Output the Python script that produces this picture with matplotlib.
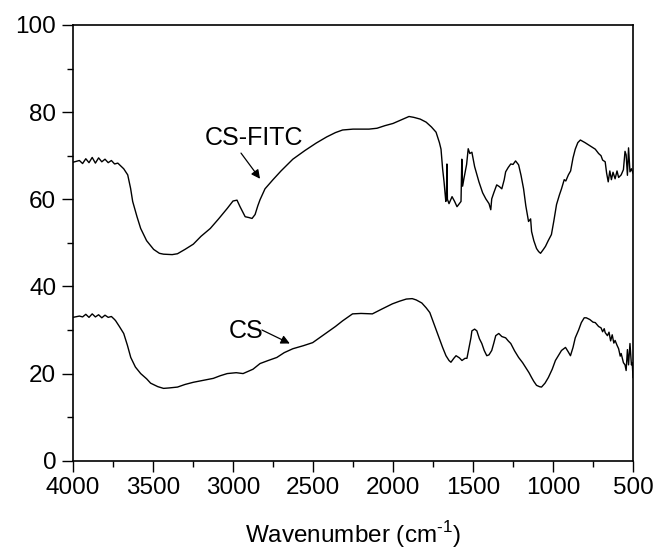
import matplotlib
matplotlib.use("Agg")
import matplotlib.pyplot as plt
from matplotlib.ticker import MultipleLocator

plt.rcParams['font.family'] = ['Liberation Sans', 'DejaVu Sans']
plt.rcParams['mathtext.fontset'] = 'custom'
plt.rcParams['mathtext.rm'] = 'Liberation Sans'

fitc_wn = [4000, 3960, 3940, 3920, 3900, 3880, 3860, 3840, 3820, 3800, 3780, 3760, 3740, 3720, 3700,
           3683, 3658, 3640, 3627, 3600, 3577, 3540, 3496, 3460, 3434, 3380, 3347, 3300, 3248, 3200,
           3142, 3090, 3036, 3000, 2975, 2956, 2935, 2924, 2900, 2881, 2862, 2845, 2831, 2800, 2750,
           2700, 2626, 2550, 2480, 2415, 2360, 2315, 2250, 2150, 2100, 2050, 2000, 1950, 1900, 1870,
           1830, 1793, 1760, 1731, 1710, 1700, 1690, 1681, 1670, 1666, 1663, 1660, 1650, 1631, 1615,
           1600, 1585, 1575, 1570, 1565, 1557, 1540, 1530, 1520, 1507, 1490, 1463, 1440, 1420, 1400,
           1389, 1383, 1370, 1352, 1335, 1320, 1305, 1296, 1280, 1264, 1250, 1234, 1215, 1200, 1184,
           1170, 1153, 1140, 1134, 1120, 1103, 1090, 1078, 1060, 1047, 1030, 1010, 995, 978, 960,
           947, 930, 920, 904, 890, 875, 861, 845, 829, 800, 770, 736, 715, 700, 690,
           674, 665, 655, 645, 635, 625, 612, 600, 590, 574, 560, 550, 543, 535, 528,
           519, 510, 500]
fitc_val = [68.5, 68.9, 68.2, 69.3, 68.4, 69.6, 68.3, 69.5, 68.6, 69.2, 68.4, 68.9, 68.1, 68.3, 67.6,
            67.0, 65.6, 62.5, 59.5, 56.0, 53.3, 50.5, 48.5, 47.6, 47.4, 47.3, 47.5, 48.5, 49.7, 51.5,
            53.3, 55.5, 57.9, 59.6, 59.8, 58.3, 56.8, 56.0, 55.8, 55.6, 56.5, 58.5, 59.9, 62.4, 64.5,
            66.5, 69.2, 71.2, 72.9, 74.3, 75.3, 75.9, 76.1, 76.1, 76.3, 76.9, 77.4, 78.2, 79.0, 78.8,
            78.4, 77.7, 76.6, 75.4, 73.0, 71.5, 67.0, 64.0, 59.5, 61.0, 68.1, 60.0, 59.0, 60.6, 59.5,
            58.3, 59.0, 59.5, 69.2, 63.0, 64.7, 68.0, 71.6, 70.5, 70.8, 67.5, 64.0, 61.5, 60.1, 59.0,
            57.6, 60.1, 61.5, 63.3, 62.9, 62.4, 64.5, 66.3, 67.3, 68.1, 68.0, 68.8, 67.9, 65.5, 62.4,
            58.5, 54.9, 55.5, 52.6, 50.5, 48.7, 48.0, 47.6, 48.5, 49.2, 50.5, 51.9, 55.0, 58.8, 61.0,
            62.4, 64.5, 64.2, 65.6, 66.5, 69.5, 71.5, 73.0, 73.6, 73.0, 72.3, 71.5, 70.5, 70.0, 69.0,
            68.6, 66.0, 64.0, 66.5, 64.5, 66.2, 64.7, 66.5, 65.0, 65.6, 66.8, 71.0, 70.2, 65.5, 71.8,
            66.3, 67.0, 66.0]

cs_wn = [4000, 3960, 3940, 3920, 3900, 3880, 3860, 3840, 3820, 3800, 3780, 3760, 3740, 3733, 3710,
         3683, 3660, 3639, 3610, 3577, 3540, 3515, 3470, 3434, 3400, 3347, 3300, 3248, 3180, 3123,
         3080, 3036, 2980, 2937, 2900, 2875, 2831, 2780, 2726, 2680, 2626, 2560, 2502, 2460, 2415,
         2360, 2315, 2280, 2253, 2200, 2129, 2070, 2004, 1960, 1917, 1880, 1855, 1820, 1793, 1770,
         1756, 1735, 1712, 1690, 1669, 1650, 1638, 1620, 1606, 1585, 1569, 1550, 1538, 1525, 1513,
         1507, 1490, 1476, 1460, 1445, 1430, 1414, 1400, 1383, 1370, 1358, 1339, 1320, 1296, 1280,
         1264, 1240, 1215, 1190, 1171, 1150, 1134, 1120, 1103, 1085, 1072, 1050, 1029, 1005, 985,
         965, 947, 922, 905, 891, 875, 861, 840, 823, 805, 792, 770, 750, 736, 715,
         700, 690, 680, 674, 660, 650, 640, 630, 620, 612, 600, 590, 580, 574, 560,
         550, 543, 535, 528, 519, 510, 505, 500]
cs_val = [32.9, 33.2, 33.0, 33.6, 32.9, 33.7, 33.0, 33.5, 32.8, 33.4, 32.9, 33.1, 32.4, 32.1, 30.8,
          29.2, 26.5, 23.7, 21.5, 20.0, 18.8, 17.8, 17.0, 16.6, 16.7, 16.9, 17.5, 18.0, 18.5, 18.9,
          19.5, 20.0, 20.2, 20.0, 20.6, 21.0, 22.3, 23.0, 23.7, 24.8, 25.7, 26.4, 27.1, 28.2, 29.4,
          30.8, 32.1, 33.0, 33.7, 33.8, 33.7, 34.8, 36.0, 36.6, 37.1, 37.2, 36.9, 36.2, 35.1, 34.0,
          32.6, 30.5, 28.2, 26.0, 24.1, 23.0, 22.6, 23.5, 24.1, 23.6, 23.0, 23.5, 23.5, 26.0, 28.2,
          29.8, 30.2, 29.8, 28.0, 26.9, 25.3, 24.1, 24.3, 25.3, 27.0, 28.7, 29.2, 28.5, 28.2, 27.5,
          26.9, 25.2, 23.7, 22.5, 21.4, 20.2, 19.1, 18.2, 17.3, 17.0, 16.9, 17.8, 19.1, 21.0, 23.0,
          24.2, 25.3, 26.0, 25.0, 24.1, 26.0, 28.2, 30.0, 31.7, 32.8, 32.8, 32.4, 31.8, 31.7, 30.8,
          30.5, 29.6, 30.3, 29.4, 28.7, 29.5, 27.5, 28.9, 27.0, 27.6, 26.5, 25.7, 24.0, 24.6, 22.5,
          22.0, 20.7, 25.5, 22.0, 26.9, 22.0, 22.5, 19.1]

x_ticks = [4000, 3500, 3000, 2500, 2000, 1500, 1000, 500]
y_ticks = [0, 20, 40, 60, 80, 100]

fig = plt.figure(figsize=(6.57, 5.49), dpi=100)
ax = fig.add_axes([0.1111, 0.1608, 0.8524, 0.7937])

ax.plot(fitc_wn, fitc_val, color='black', lw=1.0)
ax.plot(cs_wn, cs_val, color='black', lw=1.0)

ax.set_xlim(4000, 500)
ax.set_ylim(0, 100)
ax.set_xticks(x_ticks)
ax.set_yticks(y_ticks)
ax.xaxis.set_minor_locator(MultipleLocator(250))
ax.yaxis.set_minor_locator(MultipleLocator(10))
ax.tick_params(which='major', direction='out', length=8, width=1, labelsize=17.5, pad=4,
               top=False, right=False)
ax.tick_params(which='minor', direction='out', length=4.5, width=1, top=False, right=False)
for s in ax.spines.values():
    s.set_linewidth(1.2)

ax.set_xlabel('Wavenumber (cm$^{\\text{-1}}$)', fontsize=17.5, labelpad=14)

ax.text(2869, 74.0, 'CS-FITC', fontsize=18, ha='center', va='center')
ax.annotate('', xy=(2831, 64.7), xytext=(2950, 70.6),
            arrowprops=dict(arrowstyle='-|>', color='black', lw=0.9, shrinkA=0, shrinkB=0,
                            mutation_scale=13))
ax.text(2918, 29.8, 'CS', fontsize=18, ha='center', va='center')
ax.annotate('', xy=(2645, 26.9), xytext=(2819, 30.0),
            arrowprops=dict(arrowstyle='-|>', color='black', lw=0.9, shrinkA=0, shrinkB=0,
                            mutation_scale=13))

fig.savefig('out.png', dpi=100)
